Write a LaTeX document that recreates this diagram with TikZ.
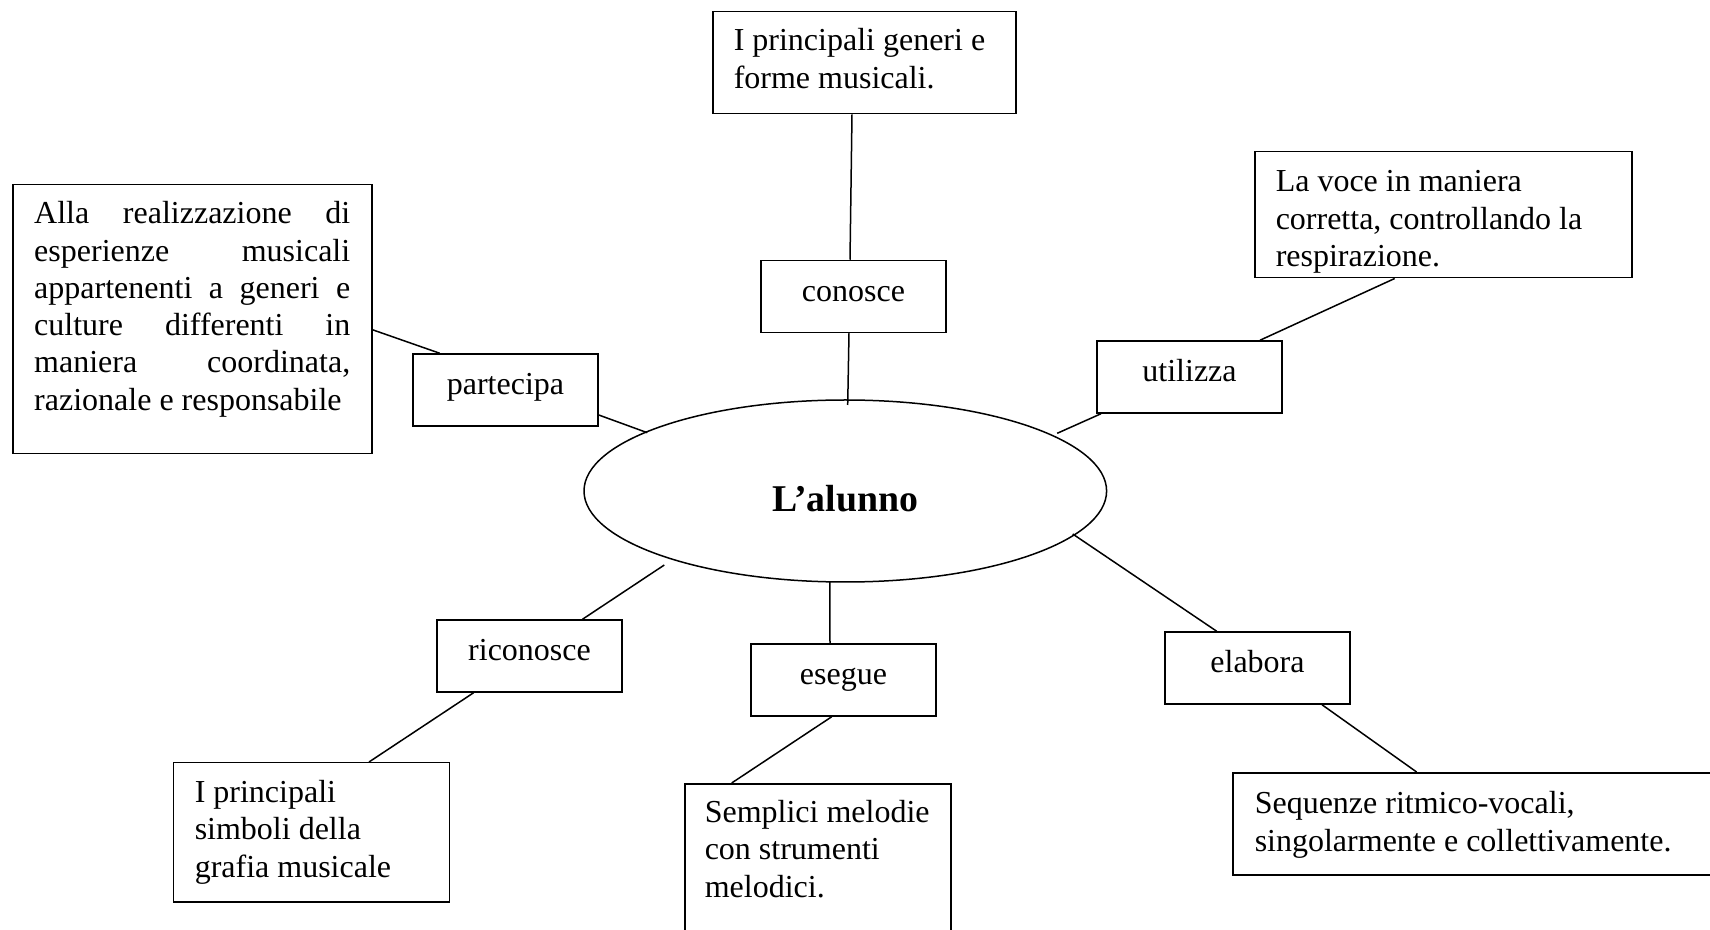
\documentclass[tikz,border=0pt]{standalone}
\usepackage{fontspec}
\setmainfont{Liberation Serif}
\usetikzlibrary{shapes.geometric}
\newcommand{\myfs}{\fontsize{16pt}{18.65pt}\selectfont}
\newcommand{\mynsp}{\spaceskip=0pt\xspaceskip=0pt\relax}
\tolerance=10000
\hbadness=10000
\begin{document}
\begin{tikzpicture}[x=0.5pt,y=-0.5pt, line width=0.75pt,
  bigbox/.style={draw, rectangle, anchor=north west, inner ysep=0pt, inner xsep=10.5pt, align=left, font=\myfs},
  verbbox/.style={draw, rectangle, minimum width=92.5pt, minimum height=36pt, inner sep=0pt, font=\myfs, text height=11.2pt, text depth=6.24pt},
  link/.style={draw, line width=0.75pt}]
\useasboundingbox (0,0) rectangle (1710,930);

% central ellipse
\node[draw, ellipse, minimum width=261.3pt, minimum height=91pt, inner sep=0pt,
      font=\bfseries\fontsize{18.9pt}{22pt}\selectfont, text height=21pt, text depth=0pt]
      (ell) at (845.3,491) {L’alunno};

% text boxes
\node[bigbox, inner xsep=10.75pt, text width=158pt, text height=19.5pt, text depth=115pt, align=justify]
  (all) at (12,184) {\mynsp Alla realizzazione di\linebreak esperienze musicali\linebreak appartenenti a generi e\linebreak culture differenti in\linebreak maniera coordinata,\linebreak razionale e responsabile};
\node[bigbox, text width=130.5pt, text height=19.5pt, text depth=31.5pt]
  (gen) at (712,11) {\mynsp I principali generi e\\forme musicali.};
\node[bigbox, text width=167.5pt, text height=20pt, text depth=43pt]
  (voce) at (1254,151) {\mynsp La voce in maniera\\corretta, controllando la\\respirazione.};
\node[bigbox, inner xsep=10.75pt, text width=116.5pt, text height=19.85pt, text depth=49.65pt]
  (simb) at (172.5,762) {\mynsp I principali\\simboli della\\grafia musicale};
\node[bigbox, inner xsep=10pt, text width=113pt, text height=19.35pt, text depth=61.65pt]
  (melo) at (684,783) {\mynsp Semplici~melodie\\con strumenti\\melodici.};
\node[bigbox, inner xsep=11pt, text width=222pt, text height=20.5pt, text depth=30.5pt]
  (seq) at (1232,772) {\mynsp Sequenze ritmico-vocali,\\singolarmente e collettivamente.};

% verb boxes
\node[verbbox] (con) at (853.5,296.5) {conosce};
\node[verbbox] (par) at (505.5,390) {partecipa};
\node[verbbox] (uti) at (1189.5,377) {utilizza};
\node[verbbox] (ric) at (529.5,656) {riconosce};
\node[verbbox] (ese) at (843.5,680) {esegue};
\node[verbbox] (ela) at (1257.5,668) {elabora};

% connectors
\draw[link] ([xshift=70pt]gen.south west) -- ([xshift=-1.75pt]con.north);
\draw[link] ([xshift=-2.25pt]con.south) -- ([xshift=1.2pt,yshift=43pt]ell.center);
\draw[link] ([yshift=-5.25pt]all.east) -- ([xshift=-32.9pt]par.north);
\draw[link] ([yshift=-12.5pt]par.east) -- ([xshift=-99pt,yshift=29.15pt]ell.center);
\draw[link] ([xshift=70.35pt]voce.south west) -- ([xshift=35.25pt]uti.north);
\draw[link] ([xshift=-44.25pt]uti.south) -- ([xshift=105.95pt,yshift=28.85pt]ell.center);
\draw[link] ([xshift=-90.5pt,yshift=-37pt]ell.center) -- ([xshift=26.5pt]ric.north);
\draw[link] ([xshift=-27.95pt]ric.south) -- ([xshift=98.25pt]simb.north west);
\draw[link] ([xshift=-7.75pt,yshift=-45.5pt]ell.center) -- ([xshift=-6.75pt]ese.north);
\draw[link] ([xshift=-5.9pt]ese.south) -- ([xshift=23.85pt]melo.north west);
\draw[link] ([xshift=113.7pt,yshift=-21.5pt]ell.center) -- ([xshift=-20.4pt]ela.north);
\draw[link] ([xshift=32.25pt]ela.south) -- ([xshift=92.3pt]seq.north west);
\end{tikzpicture}
\end{document}
